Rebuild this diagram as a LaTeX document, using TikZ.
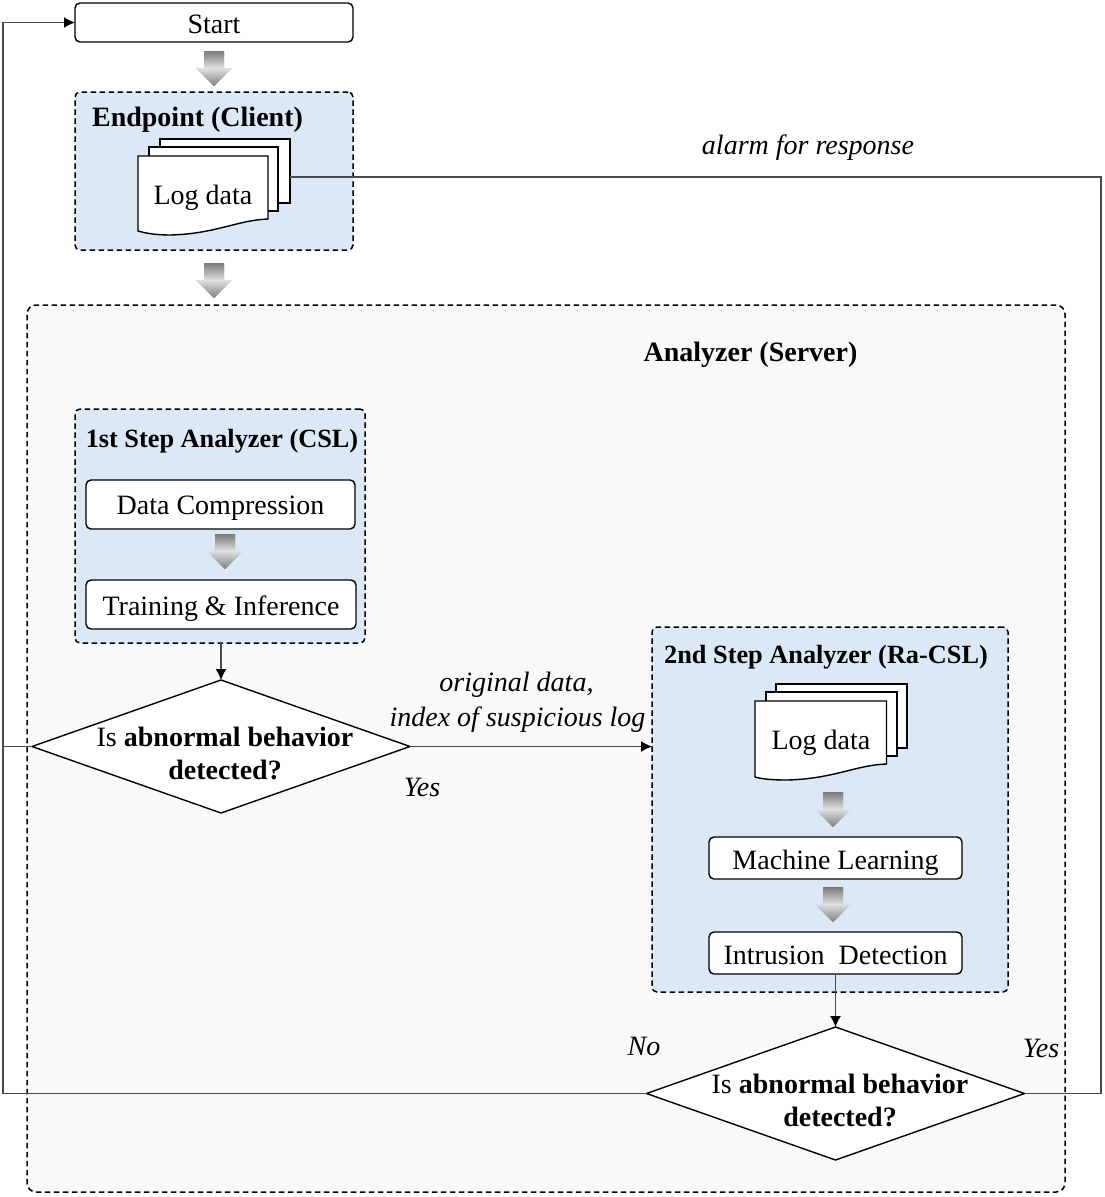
\documentclass[tikz,border=0pt]{standalone}
\usepackage{fontspec}
\setmainfont{Liberation Serif}
\usetikzlibrary{shapes.geometric,arrows.meta}
\definecolor{panelblue}{HTML}{DCE8F5}
\definecolor{panelgray}{HTML}{F9F9F9}
\definecolor{wire}{HTML}{4A4A4A}
\newcommand{\blockarrow}[2]{%
  \begin{scope}
    \clip (#1-10,#2) -- (#1+10,#2) -- (#1+10,#2+17) -- (#1+18,#2+17) -- (#1,#2+35) -- (#1-18,#2+17) -- (#1-10,#2+17) -- cycle;
    \foreach \t in {0,...,34}{%
      \pgfmathsetmacro\shadepct{\t<17 ? 52-40*\t/17 : 12+38*(\t-17)/18}
      \fill[black!\shadepct] (#1-19,#2+\t) rectangle (#1+19,#2+\t+1.5);
    }
  \end{scope}}
\tikzset{
  txt/.style={font=\fontsize{28}{32}\selectfont,inner sep=0pt,outer sep=0pt},
  smalltitle/.style={font=\fontsize{26.3}{30}\selectfont\bfseries,inner sep=0pt},
  itl/.style={txt,font=\fontsize{28}{32}\selectfont\itshape},
  bld/.style={txt,font=\fontsize{28}{32}\selectfont\bfseries},
  procbox/.style={draw=black,line width=1.4pt,fill=white,rounded corners=5pt,inner sep=0pt,outer sep=0pt},
  panel/.style={draw=black,line width=1.5pt,dash pattern=on 5.5pt off 3.5pt,fill=panelblue,rounded corners=5pt,inner sep=0pt,outer sep=0pt},
  bigpanel/.style={panel,fill=panelgray,rounded corners=9pt},
  sheet/.style={draw=black,line width=1.4pt,fill=white,inner sep=0pt,outer sep=0pt},
  decision/.style={diamond,draw=black,line width=1.4pt,fill=white,inner sep=0pt,outer sep=0pt,aspect=2.84,minimum width=378pt,minimum height=133pt},
  wireline/.style={draw=wire,line width=1.4pt},
  flow/.style={wireline,-{Latex[length=11pt,width=11pt,color=black]}},
}
\begin{document}
\begin{tikzpicture}[x=1pt,y=-1pt]
\useasboundingbox (0,0) rectangle (1105,1197);
\fill[white] (0,0) rectangle (1105,1197);

% large panels
\node[bigpanel,minimum width=1038pt,minimum height=887pt] (analyzer) at (546,748.5) {};
\node[bld] (analyzertitle) at (750.5,355) {Analyzer (Server)};

% start and endpoint
\node[procbox,minimum width=278pt,minimum height=39pt] (start) at (214,22.5) {};
\node[txt] (startt) at (214,24.5) {Start};
\blockarrow{214}{51}
\node[panel,minimum width=278pt,minimum height=158pt] (endpoint) at (214,171) {};
\node[bld] (endpointtitle) at (197.5,120) {Endpoint (Client)};
\node[sheet,minimum width=130pt,minimum height=64pt] (e3) at (225,171) {};
\node[sheet,minimum width=129pt,minimum height=64pt] (e2) at (213.5,179) {};
\coordinate (e1a) at (138,156);
\coordinate (e1b) at (268,156);
\coordinate (e1c) at (268,219);
\coordinate (e1d) at (138,231);
\draw[sheet] (e1a) -- (e1b) -- (e1c) .. controls (238,220) and (215,234) .. (170,235) .. controls (155,235) and (145,233) .. (e1d) -- cycle;
\node[txt] (e1t) at (203,198) {Log data};
\blockarrow{214}{263}

% first step
\node[panel,minimum width=290pt,minimum height=234pt] (first) at (220,526) {};
\node[smalltitle] (firsttitle) at (222,441) {1st Step Analyzer (CSL)};
\node[procbox,minimum width=269pt,minimum height=49pt] (compress) at (220.5,504.5) {};
\node[txt] (compresst) at (220.5,508.5) {Data Compression};
\blockarrow{225}{534}
\node[procbox,minimum width=270pt,minimum height=49pt] (train) at (221,604.5) {};
\node[txt] (traint) at (221,608.5) {Training \& Inference};

% diamond one
\node[decision] (d1) at (221,746.5) {};
\node[txt] (d1a) at (225,737) {Is \textbf{abnormal behavior}};
\node[bld] (d1b) at (225,770) {detected?};

% second step
\node[panel,minimum width=356pt,minimum height=365pt] (second) at (830,809.5) {};
\node[smalltitle] (secondtitle) at (826,657) {2nd Step Analyzer (Ra-CSL)};
\node[sheet,minimum width=131pt,minimum height=64pt] (s3) at (841.5,716) {};
\node[sheet,minimum width=131pt,minimum height=64pt] (s2) at (831.5,724) {};
\coordinate (s1a) at (755,701);
\coordinate (s1b) at (886.5,701);
\coordinate (s1c) at (886.5,764);
\coordinate (s1d) at (755,777);
\draw[sheet] (s1a) -- (s1b) -- (s1c) .. controls (856,765) and (833,779) .. (787,780) .. controls (772,780) and (762,779) .. (s1d) -- cycle;
\node[txt] (s1t) at (821,743) {Log data};
\blockarrow{833}{792}
\node[procbox,minimum width=253pt,minimum height=42pt] (ml) at (835.5,858) {};
\node[txt] (mlt) at (835.5,863) {Machine Learning};
\blockarrow{833}{887}
\node[procbox,minimum width=253pt,minimum height=42pt] (intr) at (835.5,953) {};
\node[txt] (intrt) at (835.5,955) {Intrusion\ \ Detection};

% diamond two
\node[decision] (d2) at (835.5,1093.5) {};
\node[txt] (d2a) at (840,1084) {Is \textbf{abnormal behavior}};
\node[bld] (d2b) at (840,1117) {detected?};

% connectors
\coordinate (leftbus) at (3,1093.5);
\coordinate (leftmid) at (3,746.5);
\coordinate (lefttop) at (3,22.5);
\coordinate (rightbus) at (1101,1093.5);
\coordinate (righttop) at (1101,177);
\coordinate (alarmend) at (290,177);
\coordinate (firstout) at (221,643);
\coordinate (secondin) at (652,746.5);
\draw[flow] (d2.west) -- (leftbus) -- (lefttop) -- (start.west);
\draw[wireline] (d1.west) -- (leftmid);
\draw[wireline] (d2.east) -- (rightbus) -- (righttop) -- (alarmend);
\draw[flow] (firstout) -- (d1.north);
\draw[flow] (d1.east) -- (secondin);
\draw[flow] (intr.south) -- (d2.north);

% labels
\node[itl] (lalarm) at (808,148) {alarm for response};
\node[itl] (lorig) at (516.5,685) {original data,};
\node[itl] (lindex) at (517.5,720) {index of suspicious log};
\node[itl] (lyes1) at (422,787) {Yes};
\node[itl] (lno) at (644,1046) {No};
\node[itl] (lyes2) at (1041,1048) {Yes};
\end{tikzpicture}
\end{document}
